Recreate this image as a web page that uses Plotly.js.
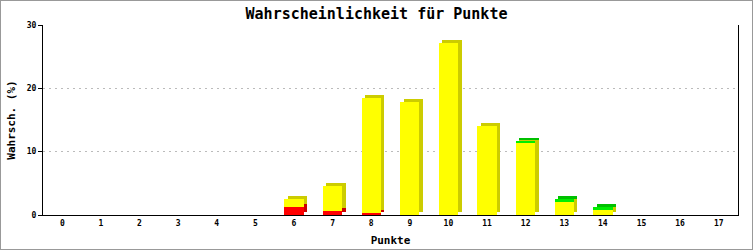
<!DOCTYPE html>
<html>
<head>
<meta charset="utf-8">
<script src="https://cdn.plot.ly/plotly-3.0.1.min.js"></script>
<style>
  html, body { margin: 0; padding: 0; background: #fff; }
  #frame { width: 753px; height: 250px; box-sizing: border-box; border: 1px solid #999; }
  #chart { width: 751px; height: 248px; }
</style>
</head>
<body>
<div id="frame"><div id="chart"></div></div>
<script>
// ---- data ----
const categories = [0,1,2,3,4,5,6,7,8,9,10,11,12,13,14,15,16,17];
const tickLabels = ["0","1","2","3","4","5","6","7","8","9","10","11","12","13","14","15","16","17"];
const redValues    = [0,0,0,0,0,0,1.3,0.6,0.3,0,0,0,0,0,0,0,0,0];
const yellowValues = [0,0,0,0,0,0,1.25,4.0,18.1,17.8,27.2,14.0,11.35,2.06,0.8,0,0,0];
const greenValues  = [0,0,0,0,0,0,0,0,0,0,0,0,0.35,0.48,0.47,0,0,0];

// ---- style ----
const BAR_W = 0.5;
const DX = 0.09;    // depth offset (category units)
const DY = 0.48;    // depth offset (value units)
const mono = "DejaVu Sans Mono, Liberation Mono, monospace";

const yellowBase = redValues.slice();
const greenBase = redValues.map((r, i) => r + yellowValues[i]);
const zeros = categories.map(() => 0);

function bar(y, base, color, shadow) {
  return {
    type: 'bar', x: categories, y: y, base: base,
    width: BAR_W, offset: shadow ? -BAR_W / 2 + DX : -BAR_W / 2,
    marker: { color: color, line: { width: 0 } },
    hoverinfo: 'skip', showlegend: false
  };
}
const shift = arr => arr.map(v => v + DY);

const traces = [
  bar(redValues, shift(zeros), '#cc0000', true),
  bar(yellowValues, shift(yellowBase), '#cccc00', true),
  bar(greenValues, shift(greenBase), '#00c000', true),
  bar(redValues, zeros, '#ff0000', false),
  bar(yellowValues, yellowBase, '#ffff00', false),
  bar(greenValues, greenBase, '#00ee00', false)
];

const layout = {
  width: 751, height: 248,
  margin: { l: 42, r: 14, t: 24, b: 34 },
  paper_bgcolor: '#fff', plot_bgcolor: '#fff',
  barmode: 'overlay', bargap: 0,
  title: {
    text: 'Wahrscheinlichkeit für Punkte',
    font: { family: mono, size: 15, color: '#000', weight: 'bold' },
    x: 0.5, xanchor: 'center', y: 0.948, yanchor: 'middle', yref: 'container'
  },
  xaxis: {
    range: [-0.5, 17.5],
    tickmode: 'array', tickvals: categories, ticktext: tickLabels,
    ticks: '', showgrid: false, zeroline: false,
    showline: true, linecolor: '#000', linewidth: 1,
    tickfont: { family: mono, size: 8, color: '#000', weight: 'bold' },
    title: { text: 'Punkte', font: { family: mono, size: 11, color: '#000', weight: 'bold' }, standoff: 9 },
    fixedrange: true
  },
  yaxis: {
    range: [0, 30],
    tickvals: [0, 10, 20, 30], ticktext: ['0', '10', '20', '30'],
    ticks: 'outside', ticklen: 4, tickcolor: '#000', tickwidth: 1,
    showgrid: true, gridcolor: '#bbbbbb', griddash: '2px,4px', gridwidth: 1,
    zeroline: false,
    showline: true, linecolor: '#000', linewidth: 1, mirror: true,
    tickfont: { family: mono, size: 8, color: '#000', weight: 'bold' },
    title: { text: 'Wahrsch. (%)', font: { family: mono, size: 11, color: '#000', weight: 'bold' }, standoff: 8 },
    fixedrange: true
  }
};

Plotly.newPlot('chart', traces, layout, { staticPlot: true, displayModeBar: false });
</script>
</body>
</html>
